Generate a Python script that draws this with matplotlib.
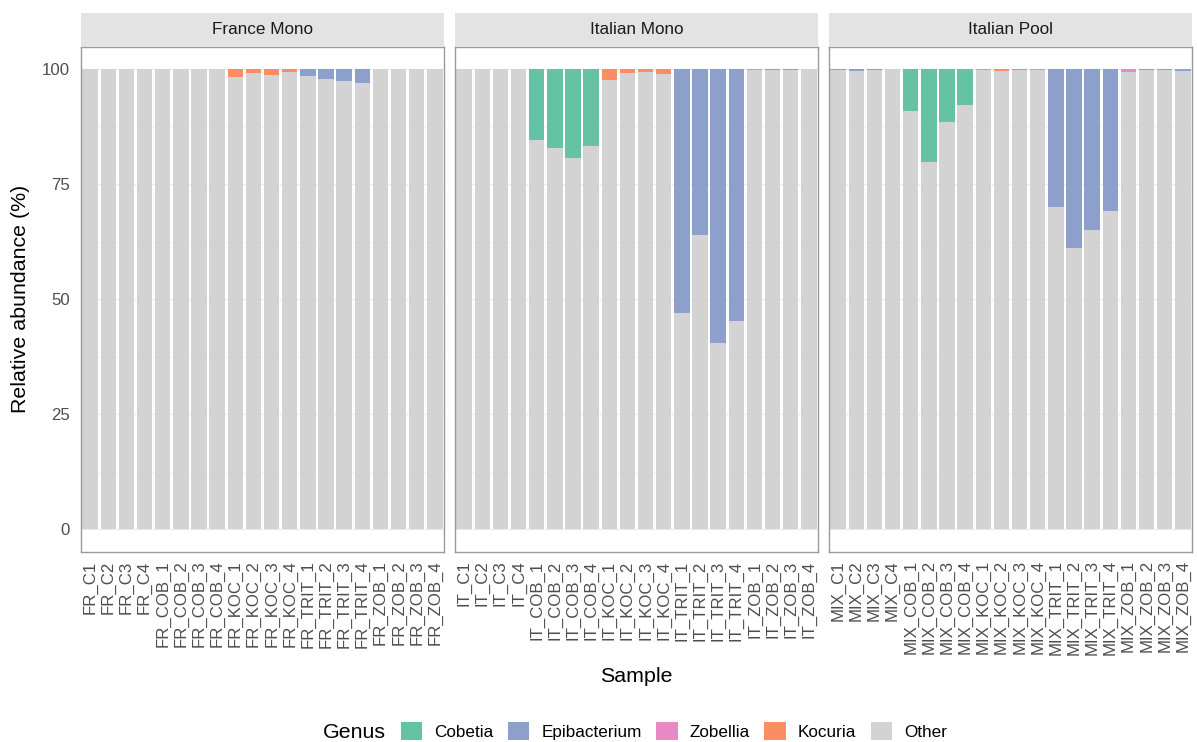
import matplotlib
matplotlib.use("Agg")
import matplotlib.pyplot as plt
from matplotlib.patches import Patch
import numpy as np

plt.rcParams["font.family"] = ["Liberation Sans", "DejaVu Sans"]

# ---- data -------------------------------------------------------------
facets = ["France Mono", "Italian Mono", "Italian Pool"]

samples_fr = ["FR_C1", "FR_C2", "FR_C3", "FR_C4",
              "FR_COB_1", "FR_COB_2", "FR_COB_3", "FR_COB_4",
              "FR_KOC_1", "FR_KOC_2", "FR_KOC_3", "FR_KOC_4",
              "FR_TRIT_1", "FR_TRIT_2", "FR_TRIT_3", "FR_TRIT_4",
              "FR_ZOB_1", "FR_ZOB_2", "FR_ZOB_3", "FR_ZOB_4"]
samples_it = ["IT_C1", "IT_C2", "IT_C3", "IT_C4",
              "IT_COB_1", "IT_COB_2", "IT_COB_3", "IT_COB_4",
              "IT_KOC_1", "IT_KOC_2", "IT_KOC_3", "IT_KOC_4",
              "IT_TRIT_1", "IT_TRIT_2", "IT_TRIT_3", "IT_TRIT_4",
              "IT_ZOB_1", "IT_ZOB_2", "IT_ZOB_3", "IT_ZOB_4"]
samples_mix = ["MIX_C1", "MIX_C2", "MIX_C3", "MIX_C4",
               "MIX_COB_1", "MIX_COB_2", "MIX_COB_3", "MIX_COB_4",
               "MIX_KOC_1", "MIX_KOC_2", "MIX_KOC_3", "MIX_KOC_4",
               "MIX_TRIT_1", "MIX_TRIT_2", "MIX_TRIT_3", "MIX_TRIT_4",
               "MIX_ZOB_1", "MIX_ZOB_2", "MIX_ZOB_3", "MIX_ZOB_4"]

# relative abundance (%) per genus, one list per facet
cobetia_fr = [0, 0, 0, 0, 0, 0, 0, 0, 0, 0, 0, 0, 0, 0, 0, 0, 0, 0, 0, 0]
epibact_fr = [0, 0, 0, 0, 0, 0, 0, 0, 0, 0, 0, 0, 1.4, 2.1, 2.5, 3.0, 0, 0, 0, 0]
zobellia_fr = [0, 0, 0, 0, 0, 0, 0, 0, 0, 0, 0, 0, 0, 0, 0, 0, 0, 0, 0, 0]
kocuria_fr = [0, 0, 0, 0, 0, 0, 0, 0, 1.7, 0.7, 1.3, 0.5, 0, 0, 0, 0, 0, 0, 0, 0]

cobetia_it = [0, 0, 0, 0, 15.4, 17.0, 19.2, 16.6, 0, 0, 0, 0, 0, 0, 0, 0, 0, 0, 0, 0]
epibact_it = [0, 0, 0, 0, 0, 0, 0, 0, 0, 0, 0, 0, 53.0, 36.0, 59.6, 54.7, 0, 0.15, 0.15, 0]
zobellia_it = [0, 0, 0, 0, 0, 0, 0, 0, 0, 0, 0, 0, 0, 0, 0, 0, 0.15, 0, 0, 0]
kocuria_it = [0, 0, 0, 0, 0, 0, 0, 0, 2.2, 0.8, 0.65, 1.0, 0, 0, 0, 0, 0.05, 0, 0, 0]

cobetia_mix = [0, 0, 0, 0, 9.1, 20.2, 11.5, 7.8, 0, 0, 0.1, 0, 0, 0, 0, 0, 0, 0, 0, 0.12]
epibact_mix = [0.1, 0.25, 0.1, 0, 0, 0, 0, 0, 0, 0, 0, 0, 30.0, 38.8, 35.0, 30.7, 0, 0.1, 0.2, 0.15]
zobellia_mix = [0, 0, 0, 0, 0, 0, 0, 0, 0.12, 0, 0, 0.1, 0, 0, 0, 0, 0.45, 0, 0, 0]
kocuria_mix = [0, 0, 0, 0, 0, 0, 0, 0, 0.1, 0.3, 0.1, 0.08, 0, 0, 0, 0, 0, 0, 0, 0]

genera = ["Cobetia", "Epibacterium", "Zobellia", "Kocuria", "Other"]
genus_colors = ["#66C2A5", "#8DA0CB", "#E78AC3", "#FC8D62", "#D3D3D3"]

facet_samples = [samples_fr, samples_it, samples_mix]
facet_values = [
    [cobetia_fr, epibact_fr, zobellia_fr, kocuria_fr],
    [cobetia_it, epibact_it, zobellia_it, kocuria_it],
    [cobetia_mix, epibact_mix, zobellia_mix, kocuria_mix],
]

# ---- figure layout (pixel based) --------------------------------------
W, H = 1197, 742
fig = plt.figure(figsize=(W / 100, H / 100), dpi=100)
fig.patch.set_facecolor("white")


def box(x0, y0, x1, y1):
    """Convert a pixel box (top-left origin) to figure fractions."""
    return [x0 / W, 1 - y1 / H, (x1 - x0) / W, (y1 - y0) / H]


panel_left = [81, 455, 829]
panel_w = 363
panel_top, panel_bottom = 46.5, 552
strip_top = 13

tick_color = "#4D4D4D"
grid_color = "#EBEBEB"
border_color = "#9A9A9A"

for i, (name, samples, vals) in enumerate(zip(facets, facet_samples, facet_values)):
    x0 = panel_left[i]
    ax = fig.add_axes(box(x0, panel_top, x0 + panel_w, panel_bottom))
    x = np.arange(1, len(samples) + 1)

    # stacked genus composition, first genus on top, "Other" at the bottom
    parts = [np.array(v, dtype=float) for v in vals]
    other = 100 - np.sum(parts, axis=0)
    stack = [other] + parts[::-1]
    stack_colors = [genus_colors[4]] + genus_colors[:4][::-1]
    bottom = np.zeros(len(samples))
    for seg, col in zip(stack, stack_colors):
        ax.bar(x, seg, bottom=bottom, width=0.85, color=col,
               edgecolor="none", linewidth=0, zorder=2)
        bottom += seg

    ax.set_xlim(0.5, len(samples) + 0.5)
    ax.set_ylim(-5, 105)

    for yv in [0, 25, 50, 75, 100]:
        ax.axhline(yv, color=grid_color, lw=0.8, zorder=1)
    for yv in [12.5, 37.5, 62.5, 87.5]:
        ax.axhline(yv, color=grid_color, lw=0.4, zorder=1)

    ax.set_xticks(x)
    ax.set_xticklabels(samples, rotation=90, fontsize=12.1, color=tick_color,
                       ha="center", va="top")
    ax.set_yticks([0, 25, 50, 75, 100])
    if i == 0:
        ax.set_yticklabels(["0", "25", "50", "75", "100"], fontsize=12.1,
                           color=tick_color)
    else:
        ax.set_yticklabels([])
    ax.tick_params(axis="both", length=0)
    ax.tick_params(axis="x", pad=6)
    ax.tick_params(axis="y", pad=8)

    for sp in ax.spines.values():
        sp.set_color(border_color)
        sp.set_linewidth(1.0)
    ax.set_facecolor("white")

    # facet strip
    sax = fig.add_axes(box(x0, strip_top, x0 + panel_w, panel_top))
    sax.set_facecolor("#E3E3E3")
    sax.set_xticks([])
    sax.set_yticks([])
    for sp in sax.spines.values():
        sp.set_visible(False)
    sax.text(0.5, 0.5, name, ha="center", va="center", fontsize=12.3,
             color="#1A1A1A", transform=sax.transAxes)

# axis titles
fig.text(21 / W, 1 - (panel_top + panel_bottom) / 2 / H, "Relative abundance (%)",
         rotation=90, ha="center", va="center", fontsize=15.4, color="black")
fig.text((panel_left[0] + panel_left[2] + panel_w) / 2 / W, 1 - 682 / H, "Sample",
         ha="center", va="baseline", fontsize=15.4, color="black")

# legend
handles = [Patch(facecolor=c, edgecolor="none") for c in genus_colors]
fig.text(323 / W, 1 - 732 / H, "Genus", ha="left", va="center", fontsize=15.4)
fig.legend(handles, genera, loc="center left",
           bbox_to_anchor=(401 / W, 1 - 731 / H), ncol=5, frameon=False,
           fontsize=12.3, handlelength=1.25, handleheight=1.25,
           handletextpad=0.7, columnspacing=0.85, borderpad=0,
           borderaxespad=0)

fig.savefig("out.png", dpi=100, facecolor="white")
